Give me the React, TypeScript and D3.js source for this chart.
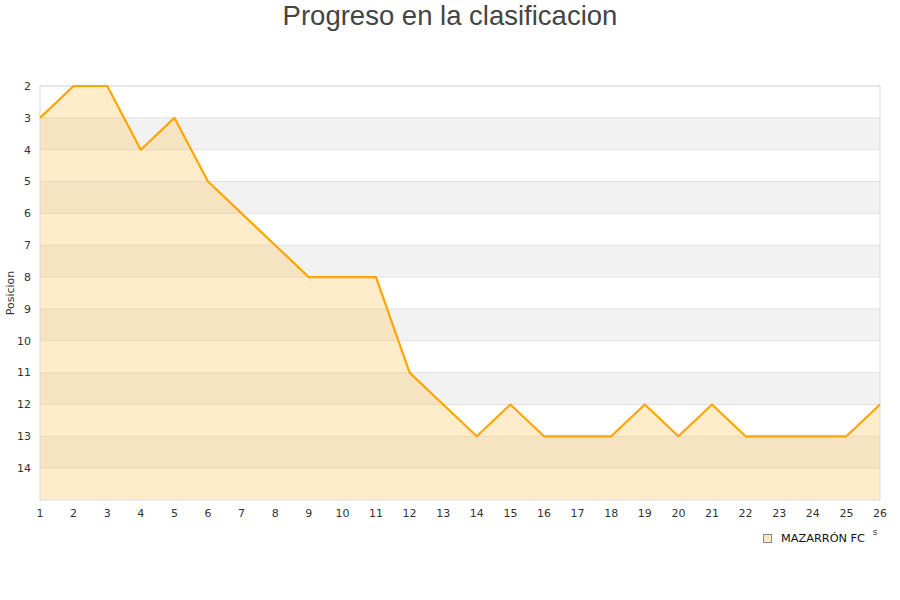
import * as d3 from 'd3';
import React from 'react';

// jornadas y posiciones
const rounds = d3.range(1, 27);
const positions = [3, 2, 2, 4, 3, 5, 6, 7, 8, 8, 8, 11, 12, 13, 12, 13, 13, 13, 12, 13, 12, 13, 13, 13, 13, 12];
const yTicks = [2, 3, 4, 5, 6, 7, 8, 9, 10, 11, 12, 13, 14];
const teamName = 'MAZARRÓN FC';

const W = 900;
const H = 600;
const margin = { top: 86, right: 20, bottom: 100, left: 40 };

export default function App() {
	const x = d3.scaleLinear().domain([1, 26]).range([margin.left, W - margin.right]);
	const y = d3.scaleLinear().domain([2, 15]).range([margin.top, H - margin.bottom]);

	const area = d3.area<number>()
		.x((d, i) => x(rounds[i]))
		.y0(y(15))
		.y1(d => y(d));
	const line = d3.line<number>()
		.x((d, i) => x(rounds[i]))
		.y(d => y(d));

	// bandas grises alternas
	const bands = [3, 5, 7, 9, 11, 13];

	return (
		<svg width={W} height={H} style={{ position: 'absolute', left: 0, top: 0, fontFamily: 'DejaVu Sans, sans-serif' }}>
			<rect x={0} y={0} width={W} height={H} fill="#fff" />
			<text x={W / 2} y={25} textAnchor="middle" fontSize={27.5} fill="#444" fontFamily="Liberation Sans, Arial, sans-serif">
				Progreso en la clasificacion
			</text>

			{bands.map(b => (
				<rect key={b} x={x(1)} y={y(b)} width={x(26) - x(1)} height={y(b + 1) - y(b)} fill="#f2f2f2" />
			))}
			{yTicks.map(t => (
				<line key={t} x1={x(1)} x2={x(26)} y1={y(t)} y2={y(t)} stroke="#e2e2e2" strokeWidth={1} />
			))}

			<path d={area(positions) || ''} fill="#ffc86b" fillOpacity={0.35} />

			<rect x={x(1)} y={y(2)} width={x(26) - x(1)} height={y(15) - y(2)} fill="none" stroke="#dcdcdc" strokeWidth={1} />

			<path d={line(positions) || ''} fill="none" stroke="#ffa500" strokeWidth={2.2} strokeLinejoin="round" />

			{yTicks.map(t => (
				<text key={t} x={31} y={y(t)} dy="0.35em" textAnchor="end" fontSize={11} fill="#333">{t}</text>
			))}
			{rounds.map(r => (
				<text key={r} x={x(r)} y={517} textAnchor="middle" fontSize={11} fill="#333">{r}</text>
			))}

			<text transform={`translate(14, ${y(8.5)}) rotate(-90)`} textAnchor="middle" fontSize={11} fill="#333">Posicion</text>

			<rect x={763.5} y={534.5} width={8} height={8} fill="#ffe7bf" stroke="#888" strokeWidth={1} />
			<text x={781} y={542} fontSize={11.3} fill="#111">{teamName}</text>
			<text x={875} y={535} textAnchor="middle" fontSize={9} fill="#333">s</text>
		</svg>
	);
}
